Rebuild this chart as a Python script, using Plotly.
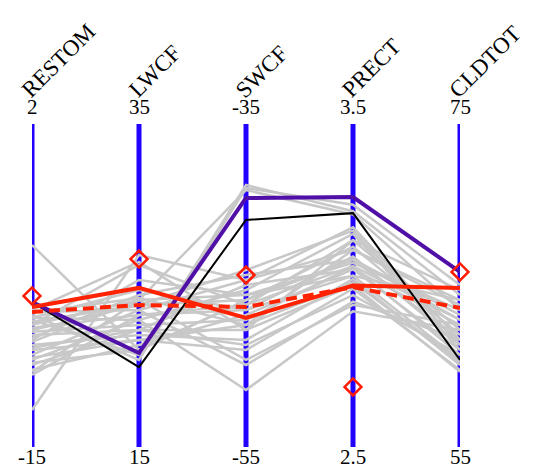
import plotly.graph_objects as go

dims = ["RESTOM", "LWCF", "SWCF", "PRECT", "CLDTOT"]
top_vals = [2, 35, -35, 3.5, 75]
bot_vals = [-15, 15, -55, 2.5, 55]
top_labels = ["2", "35", "-35", "3.5", "75"]
bot_labels = ["-15", "15", "-55", "2.5", "55"]

gray_lines = [
    [-4.37, 21.01, -45.90, 3.08, 62.87],
    [-13.05, 26.89, -44.66, 3.11, 64.10],
    [-7.79, 26.46, -47.75, 3.14, 62.25],
    [-8.05, 20.39, -38.96, 3.25, 65.03],
    [-8.31, 20.70, -38.78, 3.23, 64.41],
    [-8.57, 24.10, -39.09, 3.22, 63.48],
    [-7.89, 23.48, -44.66, 3.18, 61.63],
    [-8.20, 22.87, -45.28, 3.16, 61.01],
    [-8.41, 23.79, -45.90, 3.12, 61.94],
    [-8.73, 23.17, -46.52, 3.09, 61.32],
    [-8.94, 22.55, -47.13, 3.06, 60.70],
    [-9.10, 22.25, -44.97, 3.05, 62.56],
    [-9.26, 24.41, -44.35, 3.08, 63.18],
    [-9.47, 24.10, -45.59, 3.03, 60.39],
    [-9.63, 21.94, -48.37, 3.02, 60.08],
    [-9.89, 21.63, -48.99, 2.99, 59.77],
    [-10.15, 23.48, -49.92, 2.95, 61.63],
    [-10.41, 22.87, -51.47, 2.92, 62.25],
    [-10.68, 22.25, -47.75, 3.00, 59.65],
    [-10.94, 21.32, -46.82, 3.05, 61.01],
    [-11.20, 23.17, -46.20, 3.06, 62.87],
    [-7.94, 24.23, -47.44, 3.11, 63.79],
    [-8.84, 23.79, -44.04, 3.17, 61.32],
    [-9.78, 22.25, -48.68, 2.97, 60.70],
    [-10.31, 21.63, -47.44, 3.01, 60.27],
    [-10.57, 21.01, -45.90, 3.08, 61.63],
    [-8.20, 24.72, -46.52, 3.03, 64.10],
    [-9.36, 25.34, -45.59, 3.07, 63.48],
    [-11.05, 24.10, -49.61, 2.94, 62.56],
    [-8.57, 26.27, -46.20, 3.14, 64.72],
]
red_solid = [-7.63, 24.85, -47.01, 3.00, 64.85]
red_dashed = [-7.89, 23.79, -46.33, 2.995, 63.61]
purple_line = [-7.37, 20.82, -39.58, 3.274, 65.84]
black_line = [-7.37, 19.95, -40.94, 3.224, 60.39]
obs_points = [-7.05, 26.64, -44.35, 2.686, 65.84]

# page body adds an 8px offset, so the figure is 8px smaller each way
W, H = 525, 462
ML, MR, MT, MB = 24, 73, 116, 23
xs = list(range(len(dims)))


def norm(vals):
    return [(v - b) / (t - b) for v, t, b in zip(vals, top_vals, bot_vals)]


fig = go.Figure()

for g in gray_lines:
    fig.add_trace(go.Scatter(x=xs, y=norm(g), mode="lines",
                             line=dict(color="#c8c8c8", width=2.5),
                             hoverinfo="skip", cliponaxis=False))

fig.add_trace(go.Scatter(x=xs, y=norm(black_line), mode="lines",
                         line=dict(color="#000000", width=2), cliponaxis=False))
fig.add_trace(go.Scatter(x=xs, y=norm(purple_line), mode="lines",
                         line=dict(color="#5010a8", width=4), cliponaxis=False))
fig.add_trace(go.Scatter(x=xs, y=norm(red_dashed), mode="lines",
                         line=dict(color="#ff2200", width=4, dash="11px,6px"),
                         cliponaxis=False))
fig.add_trace(go.Scatter(x=xs, y=norm(red_solid), mode="lines",
                         line=dict(color="#ff2200", width=4), cliponaxis=False))
fig.add_trace(go.Scatter(x=xs, y=norm(obs_points), mode="markers",
                         marker=dict(symbol="diamond-open", size=13,
                                     color="#ff1a00", line=dict(width=2.5, color="#ff1a00")),
                         cliponaxis=False))

shapes = []
annotations = []
font = dict(family="Liberation Serif, Times New Roman, serif", size=21, color="#000000")
tfont = dict(family="Liberation Serif, Times New Roman, serif", size=23, color="#000000")
for i, d in enumerate(dims):
    shapes.append(dict(type="line", xref="x", yref="y", x0=i, x1=i, y0=0, y1=1,
                       line=dict(color="#2200ff", width=5), layer="below"))
    annotations.append(dict(x=i, y=1, xref="x", yref="paper", text=top_labels[i],
                            showarrow=False, yshift=17, font=font,
                            xanchor="center", yanchor="middle"))
    annotations.append(dict(x=i, y=0, xref="x", yref="paper", text=bot_labels[i],
                            showarrow=False, yshift=-10, font=font,
                            xanchor="center", yanchor="middle"))
    annotations.append(dict(x=i, y=1, xref="x", yref="paper", text=d,
                            showarrow=False, textangle=-45, xshift=-18, yshift=19,
                            font=tfont, xanchor="left", yanchor="bottom"))

fig.update_layout(
    width=W, height=H,
    margin=dict(l=ML, r=MR, t=MT, b=MB, pad=0),
    paper_bgcolor="white", plot_bgcolor="white",
    showlegend=False,
    xaxis=dict(range=[0, len(dims) - 1], visible=False, fixedrange=True),
    yaxis=dict(range=[0, 1], visible=False, fixedrange=True),
    shapes=shapes, annotations=annotations,
)

fig.write_html("out.html")
